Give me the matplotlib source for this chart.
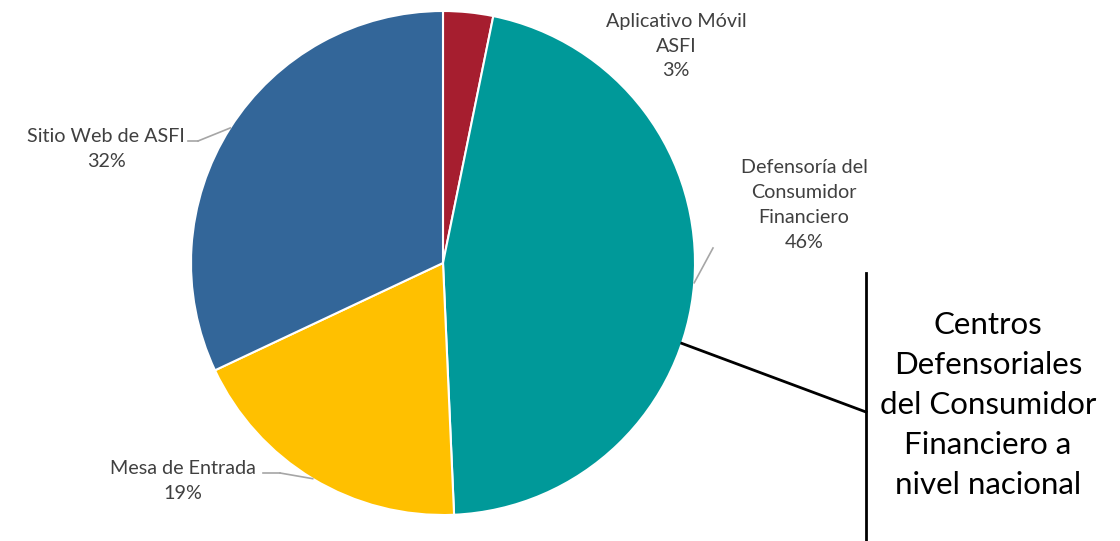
import numpy as np
import matplotlib
matplotlib.use('Agg')
import matplotlib.pyplot as plt

# data
labels = ['Aplicativo Móvil\nASFI', 'Defensoría del\nConsumidor\nFinanciero',
          'Mesa de Entrada', 'Sitio Web de ASFI']
values = [3.2, 46.1, 18.7, 32.0]
pct_labels = ['3%', '46%', '19%', '32%']
colors = ['#A61E2F', '#009999', '#FFC000', '#336699']
box_text = 'Centros\nDefensoriales\ndel Consumidor\nFinanciero a\nnivel nacional'

W, H = 1120, 541
plt.rcParams['font.family'] = ['Lato', 'DejaVu Sans']

fig = plt.figure(figsize=(W / 100, H / 100), dpi=100)
ax = fig.add_axes([0, 0, 1, 1])

cx, cy, r = 443, 263, 252
# y axis is inverted, so counterclock=True draws clockwise on screen
wedges, _ = ax.pie(values, colors=colors, startangle=-90, counterclock=True,
                   center=(cx, cy), radius=r, frame=True,
                   wedgeprops=dict(edgecolor='white', linewidth=1.5))
ax.set_xlim(0, W)
ax.set_ylim(H, 0)
ax.set_aspect('equal')
ax.axis('off')

# label positions (text centre) and leader lines
label_pos = [(676, 46), (804, 205), (183, 481), (106, 149)]
knees = [None, None, (263, 473), (188, 141)]
lead_start = [None, (713, 248), (280, 473), (198, 141)]

total = sum(values)
cum = np.cumsum([0] + values)
for i, (lab, pct) in enumerate(zip(labels, pct_labels)):
    x, y = label_pos[i]
    ax.text(x, y, lab + '\n' + pct, ha='center', va='center', fontsize=14.2,
            color='#404040', linespacing=1.55)
    if lead_start[i] is not None:
        mid = (cum[i] + cum[i + 1]) / 2 / total * 2 * np.pi
        ex, ey = cx + r * np.sin(mid), cy - r * np.cos(mid)
        sx, sy = lead_start[i]
        ax.plot([sx, ex], [sy, ey], color='#A6A6A6', lw=1.2)
        if knees[i] is not None:
            ax.plot([knees[i][0], sx], [knees[i][1], sy], color='#A6A6A6', lw=1.2)

# callout for the teal slice
ang = np.deg2rad(108.6)
px, py = cx + r * np.sin(ang), cy - r * np.cos(ang)
ax.plot([px, 866], [py, 412], color='black', lw=2)
ax.plot([866, 866], [273, H], color='black', lw=2)
ax.text(988, 405, box_text, ha='center', va='center', fontsize=22.5,
        color='black', linespacing=1.52)

fig.savefig('out.png', dpi=100)
